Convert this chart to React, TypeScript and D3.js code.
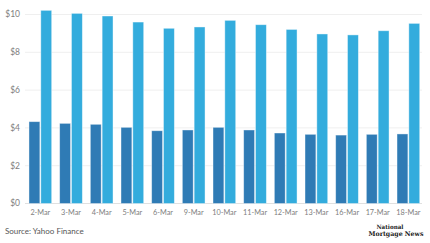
import React, { useEffect, useRef } from "react";
import * as d3 from "d3";

// tick labels + data
const dates = ["2-Mar", "3-Mar", "4-Mar", "5-Mar", "6-Mar", "9-Mar", "10-Mar", "11-Mar", "12-Mar", "13-Mar", "16-Mar", "17-Mar", "18-Mar"];
const darkValues = [4.33, 4.24, 4.19, 4.03, 3.85, 3.89, 4.03, 3.89, 3.73, 3.66, 3.62, 3.66, 3.68];
const lightValues = [10.22, 10.06, 9.92, 9.6, 9.27, 9.34, 9.69, 9.46, 9.21, 8.97, 8.92, 9.14, 9.53];
const yTicks = [0, 2, 4, 6, 8, 10];

const W = 430;
const H = 243;

export default function App() {
    const ref = useRef<SVGSVGElement>(null);

    useEffect(() => {
        const svg = d3.select(ref.current);
        svg.selectAll("*").remove();

        const font = "Lato, 'Open Sans', sans-serif";

        let x = d3.scaleBand().domain(dates).range([25, 423.7]).paddingInner(0.26).paddingOuter(0.13);
        let y = d3.scaleLinear().domain([0, 10]).range([203.5, 14.5]);
        let sub = d3.scaleBand().domain(["dark", "light"]).range([0, x.bandwidth()]).paddingInner(0.08);

        // gridlines
        svg.append("g")
            .selectAll("line")
            .data(yTicks)
            .enter()
            .append("line")
                .attr("x1", 25)
                .attr("x2", 422)
                .attr("y1", d => y(d))
                .attr("y2", d => y(d))
                .style("stroke", d => d === 0 ? "#e0e0e0" : "#efefef")
                .style("stroke-width", 1);

        // y labels
        svg.append("g")
            .selectAll("text")
            .data(yTicks)
            .enter()
            .append("text")
                .attr("x", 20)
                .attr("y", d => y(d))
                .attr("dy", "0.35em")
                .attr("text-anchor", "end")
                .style("font-family", font)
                .style("font-size", "8.5px")
                .style("fill", "#808080")
                .text(d => "$" + d);

        const groups = svg.append("g")
            .selectAll("g")
            .data(dates)
            .enter()
            .append("g")
                .attr("transform", d => `translate(${x(d)},0)`);

        groups.append("rect")
            .attr("x", sub("dark")!)
            .attr("y", (d, i) => y(darkValues[i]))
            .attr("width", sub.bandwidth())
            .attr("height", (d, i) => y(0) - y(darkValues[i]))
            .style("fill", "#2f7bb5")
            .style("stroke", "#ffffff")
            .style("stroke-opacity", 0.5)
            .style("stroke-width", 0.8);

        groups.append("rect")
            .attr("x", sub("light")!)
            .attr("y", (d, i) => y(lightValues[i]))
            .attr("width", sub.bandwidth())
            .attr("height", (d, i) => y(0) - y(lightValues[i]))
            .style("fill", "#33acdd")
            .style("stroke", "#ffffff")
            .style("stroke-opacity", 0.5)
            .style("stroke-width", 0.8);

        // x labels
        svg.append("g")
            .selectAll("text")
            .data(dates)
            .enter()
            .append("text")
                .attr("x", d => x(d)! + x.bandwidth() / 2)
                .attr("y", 212)
                .attr("dy", "0.35em")
                .attr("text-anchor", "middle")
                .style("font-family", font)
                .style("font-size", "7.3px")
                .style("fill", "#808080")
                .text(d => d);

        svg.append("text")
            .attr("x", 5)
            .attr("y", 234)
            .style("font-family", font)
            .style("font-size", "8px")
            .style("fill", "#555")
            .text("Source: Yahoo Finance");

        // logo
        const logo = svg.append("g").style("font-family", "'DejaVu Serif', 'Liberation Serif', serif").style("font-weight", "bold").style("fill", "#222");
        logo.append("text")
            .attr("x", 390)
            .attr("y", 229)
            .attr("text-anchor", "middle")
            .attr("textLength", 27)
            .attr("lengthAdjust", "spacingAndGlyphs")
            .style("font-size", "6px")
            .text("National");
        logo.append("text")
            .attr("x", 396)
            .attr("y", 236)
            .attr("text-anchor", "middle")
            .attr("textLength", 55)
            .attr("lengthAdjust", "spacingAndGlyphs")
            .style("font-size", "6.5px")
            .text("Mortgage News");
    }, []);

    return (
        <svg ref={ref} width={W} height={H} style={{ position: "absolute", left: 0, top: 0, background: "#fff" }}></svg>
    );
}
